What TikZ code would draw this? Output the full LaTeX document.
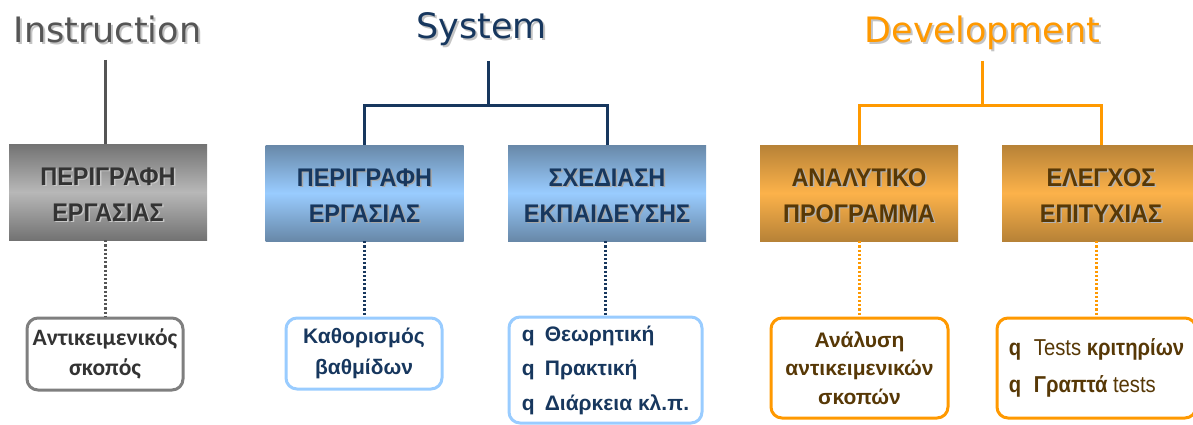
\documentclass[tikz,border=0pt]{standalone}
\usepackage{fontspec}
\setmainfont{Liberation Sans}
\newfontfamily\titlefont{DejaVu Sans}
\newfontfamily\headfont[FakeStretch=0.92]{Liberation Sans}
\newfontfamily\notefont{Liberation Sans}
\newfontfamily\narrowfont[FakeStretch=0.88]{Liberation Sans}
\newfontfamily\humanfont{Carlito}

% palette
\definecolor{instrgray}{HTML}{555555}
\definecolor{sysblue}{HTML}{17375E}
\definecolor{devorange}{HTML}{FF9900}
\definecolor{devbrown}{HTML}{573806}
\definecolor{paleblue}{HTML}{99CCFF}
\definecolor{framegray}{HTML}{7F7F7F}
\definecolor{textgray}{HTML}{333333}
\definecolor{titleshadow}{HTML}{C4C4C4}

% text with a soft drop shadow: #2 shadow colour, #3 text
\newcommand\shtext[3][1.5pt]{\makebox[0pt][l]{\hspace{#1}\raisebox{-#1}{\textcolor{#2}{#3}}}#3}
% list bullet
\newcommand\bul[1][23pt]{\makebox[#1][l]{\bfseries q}}

\begin{document}
\begin{tikzpicture}[x=1pt,y=-1pt,
  title/.style={inner sep=0pt, anchor=base, font=\titlefont\fontsize{35}{40}\selectfont},
  headbox/.style={minimum width=198pt, minimum height=96pt, inner sep=0pt},
  graybox/.style={headbox, top color=gray!90!black, bottom color=gray!90!black, middle color=black!28},
  bluebox/.style={headbox, top color={rgb,255:red,104;green,136;blue,168}, bottom color={rgb,255:red,104;green,136;blue,168}, middle color=paleblue},
  orangebox/.style={headbox, top color={rgb,255:red,183;green,130;blue,55}, bottom color={rgb,255:red,183;green,130;blue,55}, middle color={rgb,255:red,252;green,178;blue,74}},
  headtext/.style={inner sep=0pt, align=center, font=\headfont\bfseries\fontsize{25.5}{36}\selectfont},
  note/.style={draw, line width=3pt, rounded corners=11pt, fill=white, inner sep=0pt, align=center},
  link/.style={line width=3pt},
  dots/.style={line width=3pt, dash pattern=on 2.2pt off 2pt}
]
\useasboundingbox (0,0) rectangle (1193,425);
\clip (0,0) rectangle (1193,425);

% ---- column titles
\node[title, text=instrgray] (instr) at (107.5,43) {\shtext[2pt]{titleshadow}{Instruction}};
\node[title, text=sysblue] (sys) at (481.5,39) {\shtext[2pt]{titleshadow}{System}};
\node[title, text=devorange] (dev) at (982.5,43) {\shtext[2pt]{titleshadow}{Development}};

% ---- heading boxes
\node[graybox] (g) at (108,192) {};
\node[bluebox] (pb) at (364.5,193) {};
\node[bluebox] (sp) at (607,193) {};
\node[orangebox] (an) at (859,193) {};
\node[orangebox] (el) at (1101,193) {};

\node[headtext, text=textgray] (gt) at ([yshift=-3pt]g.center)
  {\shtext{black!22}{ΠΕΡΙΓΡΑΦΗ}\\\shtext{black!22}{ΕΡΓΑΣΙΑΣ}};
\node[headtext, text=sysblue] (pbt) at ([yshift=-3pt]pb.center)
  {\shtext{black!35}{ΠΕΡΙΓΡΑΦΗ}\\\shtext{black!35}{ΕΡΓΑΣΙΑΣ}};
\node[headtext, text=sysblue] (spt) at ([yshift=-3pt]sp.center)
  {\shtext{black!35}{ΣΧΕΔΙΑΣΗ}\\\shtext{black!35}{ΕΚΠΑΙΔΕΥΣΗΣ}};
\node[headtext, text=devbrown] (ant) at ([yshift=-3pt]an.center)
  {\shtext{black!30}{ΑΝΑΛΥΤΙΚΟ}\\\shtext{black!30}{ΠΡΟΓΡΑΜΜΑ}};
\node[headtext, text=devbrown] (elt) at ([yshift=-3pt]el.center)
  {\shtext{black!30}{ΕΛΕΓΧΟΣ}\\\shtext{black!30}{ΕΠΙΤΥΧΙΑΣ}};

% ---- detail boxes
\node[note, draw=framegray, text=textgray, minimum width=156pt, minimum height=72pt,
      font=\humanfont\bfseries\fontsize{23.5}{30}\selectfont] (lg) at (105,354)
  {Αντικειμενικός\\σκοπός};
\node[note, draw=paleblue, text=sysblue, minimum width=156pt, minimum height=71pt,
      font=\notefont\bfseries\fontsize{21}{31}\selectfont] (lb1) at (364,353.5)
  {Καθορισμός\\βαθμίδων};
\node[note, draw=paleblue, text=sysblue, minimum width=193pt, minimum height=106pt, align=left,
      font=\notefont\bfseries\fontsize{21}{34.5}\selectfont] (lb2) at (605.5,370)
  {\bul Θεωρητική\\\bul Πρακτική\\\bul Διάρκεια κλ.π.};
\node[note, draw=devorange, text=devbrown, minimum width=177pt, minimum height=100pt,
      font=\notefont\bfseries\fontsize{21}{28.5}\selectfont] (lo1) at (859.5,368)
  {Ανάλυση\\αντικειμενικών\\σκοπών};
\node[note, draw=devorange, text=devbrown, minimum width=199pt, minimum height=100pt, align=left,
      font=\narrowfont\fontsize{23}{37}\selectfont] (lo2) at (1096.5,368)
  {\bul[25pt]Tests \textbf{κριτηρίων}\\\bul[25pt]\textbf{Γραπτά} tests};

% ---- tree connectors
\coordinate (instrtop) at (105,60);
\coordinate (systop) at (488,61);
\coordinate (sysj) at (488,106);
\coordinate (devtop) at (982,61);
\coordinate (devj) at (982,106);

\draw[link, instrgray] (instrtop) -- (instrtop |- g.north);
\draw[link, sysblue] (systop) -- (sysj);
\draw[link, sysblue] (pb.north) |- (sysj) -| (sp.north);
\draw[link, devorange] (devtop) -- (devj);
\draw[link, devorange] (an.north) |- (devj) -| (el.north);

% ---- dotted links to the detail boxes
\draw[dots, instrgray] (lg.north |- g.south) -- (lg.north);
\draw[dots, sysblue] (lb1.north |- pb.south) -- (lb1.north);
\draw[dots, sysblue] (lb2.north |- sp.south) -- (lb2.north);
\draw[dots, devorange] (lo1.north |- an.south) -- (lo1.north);
\draw[dots, devorange] (lo2.north |- el.south) -- (lo2.north);
\end{tikzpicture}
\end{document}
